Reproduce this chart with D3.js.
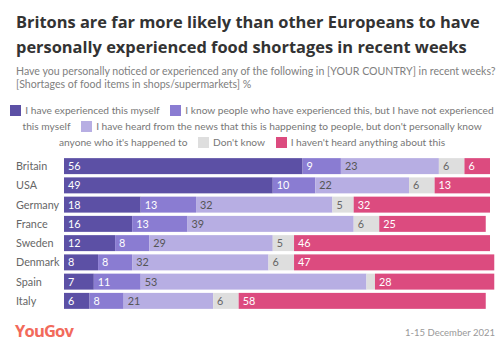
<!DOCTYPE html>
<html>
<head>
<meta charset="utf-8">
<script src="https://cdn.jsdelivr.net/npm/d3@7"></script>
<style>
  body { margin: 0; background: #fff; }
  #wrap { position: relative; width: 502px; height: 354px; }
  svg { position: absolute; left: 0; top: 0; }
  #legend {
    position: absolute; left: 10px; top: 102px; width: 484px;
    text-align: center; font-family: Lato, sans-serif; font-size: 10.2px;
    line-height: 16px; color: #777; white-space: normal;
  }
  .sw { display: inline-block; width: 11px; height: 11px; vertical-align: -2px; margin-right: 4px; }
  .gap { display: inline-block; width: 8px; }
</style>
</head>
<body>
<div id="wrap">
  <svg id="chart" width="502" height="354"></svg>
  <div id="legend"></div>
</div>
<script>
const countries = ['Britain', 'USA', 'Germany', 'France', 'Sweden', 'Denmark', 'Spain', 'Italy'];
const seriesNames = [
  'I have experienced this myself',
  'I know people who have experienced this, but I have not experienced this myself',
  "I have heard from the news that this is happening to people, but don't personally know anyone who it's happened to",
  "Don't know",
  "I haven't heard anything about this"
];
const experienced = [56, 49, 18, 16, 12, 8, 7, 6];
const knowPeople = [9, 10, 13, 13, 8, 8, 11, 8];
const heardNews = [23, 22, 32, 39, 29, 32, 53, 21];
const dontKnow = [6, 6, 5, 6, 5, 6, 2, 6];
const notHeard = [6, 13, 32, 25, 46, 47, 28, 58];
const colors = ['#5c50a5', '#8a7cd2', '#b7aee3', '#dedede', '#dc4b7f'];
const labelColors = ['#fff', '#fff', '#555', '#666', '#fff'];

const title = ['Britons are far more likely than other Europeans to have',
  'personally experienced food shortages in recent weeks'];
const subtitle = ['Have you personally noticed or experienced any of the following in [YOUR COUNTRY] in recent weeks?',
  '[Shortages of food items in shops/supermarkets] %'];

const svg = d3.select('#chart');

// title, sized to fill the width
const t = svg.append('g').attr('font-family', "'Open Sans', sans-serif").attr('font-weight', 700).attr('fill', '#333');
const t1 = t.append('text').attr('x', 16).attr('y', 28).attr('font-size', 20).text(title[0]);
const tSize = 20 * 464 / t1.node().getComputedTextLength();
t1.attr('font-size', tSize);
t.append('text').attr('x', 16).attr('y', 53).attr('font-size', tSize).text(title[1]);

const s = svg.append('g').attr('font-family', 'Lato, sans-serif').attr('fill', '#808080');
const s1 = s.append('text').attr('x', 16).attr('y', 75).attr('font-size', 10).text(subtitle[0]);
const sSize = 10 * 480 / s1.node().getComputedTextLength();
s1.attr('font-size', sSize);
s.append('text').attr('x', 16).attr('y', 88).attr('font-size', sSize).text(subtitle[1]);

// legend (inline flow, one span per word so it wraps like the original)
const legend = d3.select('#legend');
const legendNode = legend.node();
seriesNames.forEach((n, i) => {
  if (i > 0) {
    legend.append('span').attr('class', 'gap');
    legendNode.appendChild(document.createTextNode(' '));
  }
  legend.append('span').attr('class', 'sw').style('background', colors[i]);
  n.split(' ').forEach((w, j) => {
    if (j > 0) legendNode.appendChild(document.createTextNode(' '));
    legend.append('span').text(w);
  });
});

// stacked bars
const rows = countries.map((c, i) => ({
  country: c,
  values: [experienced[i], knowPeople[i], heardNews[i], dontKnow[i], notHeard[i]]
}));

const x = d3.scaleLinear().domain([0, 100]).range([64, 490]);
const y = d3.scaleBand().domain(countries).range([156.5, 310.5]).paddingInner(0.17).paddingOuter(0.085);

const rowG = svg.append('g').selectAll('g').data(rows).join('g')
  .attr('transform', d => `translate(0,${y(d.country)})`);

rowG.each(function (d) {
  const g = d3.select(this);
  let acc = 0;
  d.values.forEach((v, k) => {
    const x0 = x(acc), x1 = x(acc + v);
    g.append('rect').attr('x', x0).attr('y', 0).attr('width', x1 - x0).attr('height', y.bandwidth())
      .attr('fill', colors[k]);
    if (v >= 3) {
      g.append('text').attr('x', x0 + 4).attr('y', y.bandwidth() / 2).attr('dy', '0.36em')
        .attr('font-family', 'Lato, sans-serif').attr('font-size', 10.8).attr('fill', labelColors[k])
        .text(v);
    }
    acc += v;
  });
});

// country axis
svg.append('g').selectAll('text').data(countries).join('text')
  .attr('x', 16).attr('y', d => y(d) + y.bandwidth() / 2).attr('dy', '0.36em')
  .attr('font-family', 'Lato, sans-serif').attr('font-size', 10.8).attr('fill', '#666')
  .text(d => d);

// footer
svg.append('text').attr('x', 15).attr('y', 337).attr('font-family', "'Open Sans', sans-serif")
  .attr('font-weight', 700).attr('font-size', 16.5).attr('letter-spacing', -0.8).attr('fill', '#f26a5b').text('YouGov');
svg.append('text').attr('x', 495).attr('y', 336).attr('text-anchor', 'end').attr('font-family', 'Lato, sans-serif')
  .attr('font-size', 9.5).attr('fill', '#999').text('1-15 December 2021');
</script>
</body>
</html>
